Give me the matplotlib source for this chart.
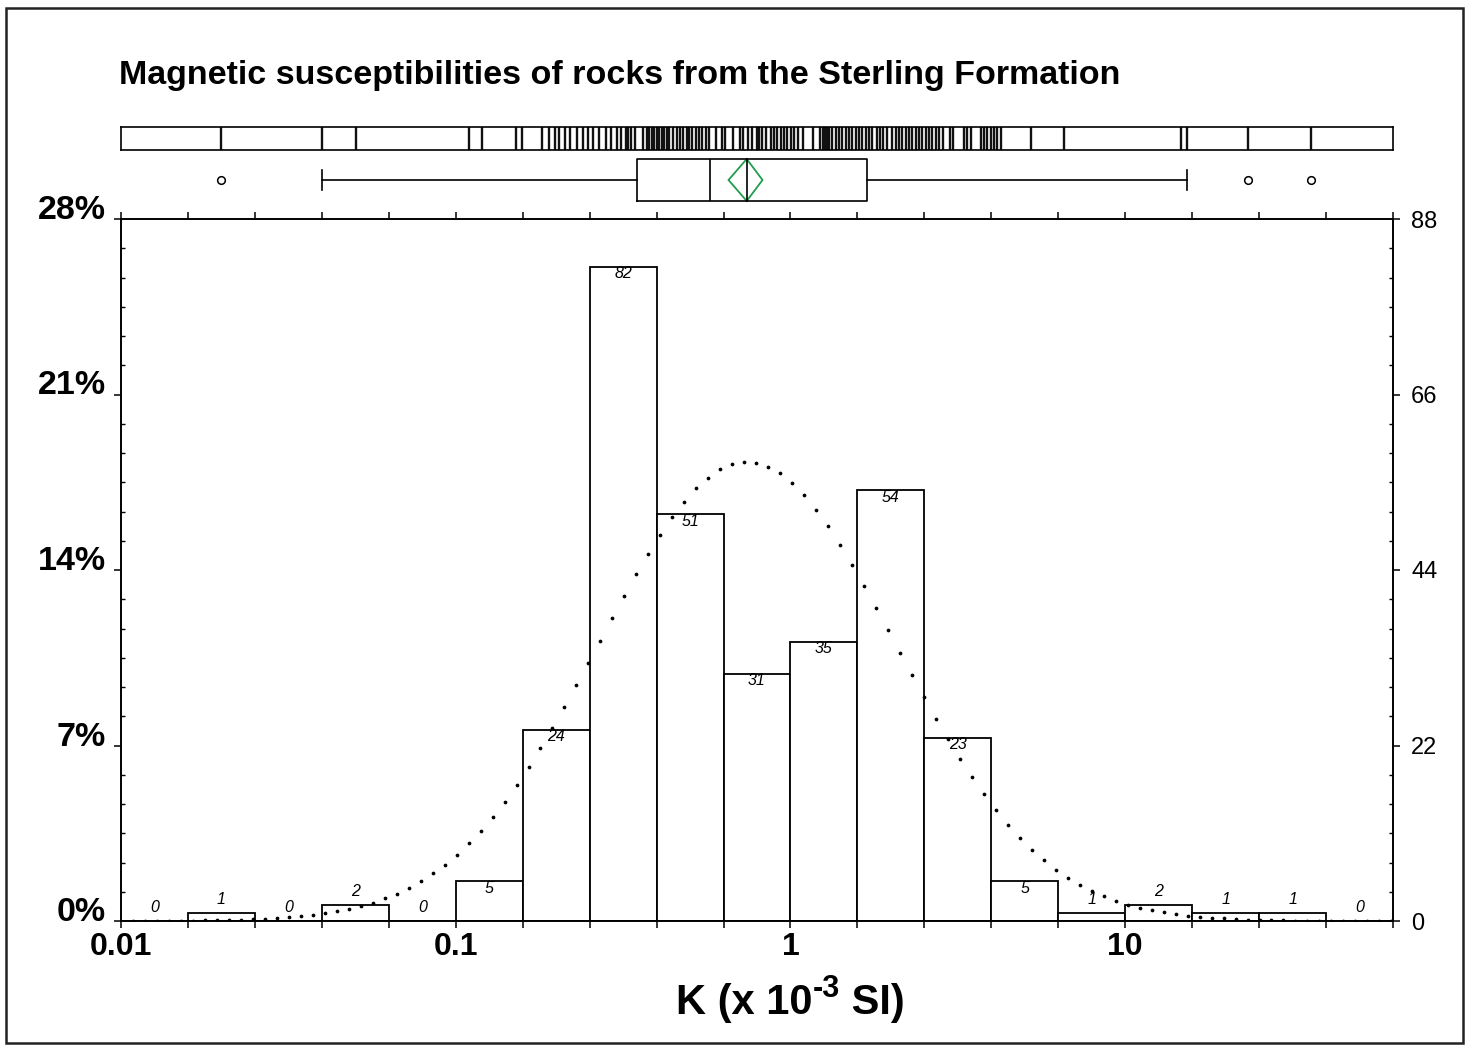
import numpy as np
import matplotlib
matplotlib.use("Agg")
import matplotlib.pyplot as plt
from matplotlib import font_manager as fm
from matplotlib.patches import Rectangle, Polygon
from matplotlib.ticker import FixedLocator, FixedFormatter, NullFormatter, NullLocator

# ---------------- data ----------------
title = "Magnetic susceptibilities of rocks from the Sterling Formation"
xlabel_parts = ["K (x 10", "-3", " SI)"]

bin_edges_log10 = [-2.0, -1.8, -1.6, -1.4, -1.2, -1.0, -0.8, -0.6, -0.4, -0.2,
                   0.0, 0.2, 0.4, 0.6, 0.8, 1.0, 1.2, 1.4, 1.6, 1.8]
counts = [0, 1, 0, 2, 0, 5, 24, 82, 51, 31, 35, 54, 23, 5, 1, 2, 1, 1, 0]

count_ticks = [0, 22, 44, 66, 88]
left_labels = ["0%", "7%", "14%", "21%", "28%"]
right_labels = ["0", "22", "44", "66", "88"]
x_tick_values = [0.01, 0.1, 1, 10]
x_tick_labels = ["0.01", "0.1", "1", "10"]

# individual sample values (log10 K) as seen in the rug strip
rug_log10 = [-1.701, -1.400, -1.299, -0.961, -0.922, -0.821, -0.803, -0.741, -0.722, -0.703,
             -0.693, -0.675, -0.660, -0.639, -0.621, -0.606, -0.591, -0.573, -0.552, -0.537,
             -0.519, -0.507, -0.490, -0.484, -0.475, -0.463, -0.442, -0.430, -0.424, -0.415,
             -0.409, -0.400, -0.394, -0.385, -0.379, -0.370, -0.364, -0.352, -0.340, -0.331,
             -0.322, -0.310, -0.304, -0.293, -0.281, -0.272, -0.263, -0.251, -0.242, -0.221,
             -0.206, -0.197, -0.173, -0.152, -0.143, -0.128, -0.116, -0.101, -0.093, -0.084,
             -0.072, -0.057, -0.048, -0.039, -0.027, -0.018, -0.009, 0.003, 0.012, 0.021,
             0.036, 0.066, 0.087, 0.096, 0.101, 0.107, 0.110, 0.116, 0.125, 0.137,
             0.146, 0.155, 0.167, 0.176, 0.185, 0.197, 0.206, 0.215, 0.227, 0.236,
             0.245, 0.257, 0.266, 0.275, 0.287, 0.304, 0.316, 0.325, 0.334, 0.346,
             0.355, 0.364, 0.376, 0.385, 0.394, 0.406, 0.415, 0.424, 0.436, 0.445,
             0.457, 0.478, 0.487, 0.519, 0.528, 0.540, 0.570, 0.579, 0.588, 0.600,
             0.609, 0.618, 0.630, 0.719, 0.818, 1.166, 1.185, 1.367, 1.555]

# box plot summary (K values)
box_q1, box_med, box_q3 = 0.347, 0.573, 1.69
box_whislo, box_whishi = 0.0398, 15.3
box_fliers = [0.0199, 23.3, 35.9]
mean_value = 0.74
mean_ci = (0.653, 0.825)

# fitted log-normal curve parameters
fit_mu_log10 = -0.13
fit_sd_log10 = 0.441
n_total = 318
bin_width_log10 = 0.2
curve_step_log10 = 0.0358

# ---------------- fonts ----------------
names = {f.name for f in fm.fontManager.ttflist}
main_font = "Liberation Sans" if "Liberation Sans" in names else "DejaVu Sans"
narrow_font = "Liberation Sans Narrow" if "Liberation Sans Narrow" in names else main_font
plt.rcParams["font.family"] = [main_font, "DejaVu Sans"]

# ---------------- figure ----------------
W, H = 1471, 1046
fig = plt.figure(figsize=(W / 100, H / 100), dpi=100)
fig.patch.set_facecolor("white")

L, R = 121, 1393
ax = fig.add_axes([L / W, 1 - 921 / H, (R - L) / W, (921 - 219) / H])
xmin, xmax = 10 ** bin_edges_log10[0], 10 ** bin_edges_log10[-1]
ax.set_xscale("log")
ax.set_xlim(xmin, xmax)
ax.set_ylim(0, 88)

edges = 10 ** np.array(bin_edges_log10)
ax.bar(edges[:-1], counts, width=np.diff(edges), align="edge",
       facecolor="white", edgecolor="black", linewidth=1.3, zorder=2)

# count labels
for i, c in enumerate(counts):
    xc = 10 ** ((bin_edges_log10[i] + bin_edges_log10[i + 1]) / 2)
    off = 10 if c <= 2 else -5
    ax.annotate(str(c), (xc, c), xytext=(0, off), textcoords="offset points",
                ha="center", va="center", fontsize=11.5, style="italic",
                family=narrow_font, zorder=4)

# fitted curve (dotted)
xs = np.arange(bin_edges_log10[0] + 0.036, bin_edges_log10[-1], curve_step_log10)
ys = n_total * bin_width_log10 / (fit_sd_log10 * np.sqrt(2 * np.pi)) * \
    np.exp(-0.5 * ((xs - fit_mu_log10) / fit_sd_log10) ** 2)
ax.plot(10 ** xs, ys, ls="none", marker="o", ms=2.7, mew=0, color="black", zorder=3)

# axes styling
for s in ax.spines.values():
    s.set_linewidth(1.2)
ax.xaxis.set_major_locator(FixedLocator(x_tick_values))
ax.xaxis.set_major_formatter(FixedFormatter(x_tick_labels))
minor_edges = [e for e in edges if not any(np.isclose(e, v) for v in x_tick_values)]
ax.xaxis.set_minor_locator(FixedLocator(minor_edges))
ax.xaxis.set_minor_formatter(NullFormatter())
ax.tick_params(axis="x", which="both", direction="out", length=5, width=1.1,
               top=True, bottom=True, labeltop=False)
ax.tick_params(axis="x", which="major", pad=3)
for t in ax.get_xticklabels():
    t.set_fontsize(23)
    t.set_fontweight("bold")

ax.set_yticks(count_ticks)
ax.set_yticklabels(left_labels, fontsize=24.5, fontweight="bold", va="baseline")
ax.yaxis.set_minor_locator(FixedLocator(list(np.arange(0, 88.01, 22 / 6))))
ax.tick_params(axis="y", which="major", direction="out", length=5, width=1.1, pad=6)
ax.tick_params(axis="y", which="minor", direction="in", length=3, width=1.0)

ax2 = ax.twinx()
ax2.set_ylim(0, 88)
ax2.set_yticks(count_ticks)
ax2.set_yticklabels(right_labels, fontsize=17, family=narrow_font)
ax2.yaxis.set_minor_locator(FixedLocator(list(np.arange(0, 88.01, 22 / 6))))
ax2.tick_params(axis="y", which="major", direction="out", length=5, width=1.1, pad=8)
ax2.tick_params(axis="y", which="minor", direction="in", length=3, width=1.0)
for s in ax2.spines.values():
    s.set_linewidth(1.2)

# rug strip
axr = fig.add_axes([L / W, 1 - 150 / H, (R - L) / W, 23 / H])
axr.set_xscale("log")
axr.set_xlim(xmin, xmax)
axr.set_ylim(0, 1)
axr.vlines(10 ** np.array(rug_log10), 0, 1, color="#111111", lw=1.7)
axr.xaxis.set_major_locator(NullLocator())
axr.xaxis.set_minor_locator(NullLocator())
axr.set_yticks([])
for s in axr.spines.values():
    s.set_linewidth(1.2)

# box plot
axb = fig.add_axes([L / W, 1 - 201 / H, (R - L) / W, 42 / H])
axb.set_xscale("log")
axb.set_xlim(xmin, xmax)
axb.set_ylim(0, 1)
axb.axis("off")
stats = [dict(q1=box_q1, med=box_med, q3=box_q3, whislo=box_whislo,
              whishi=box_whishi, fliers=box_fliers)]
art = axb.bxp(stats, positions=[0.5], widths=[1.0], capwidths=[0.46],
              orientation="horizontal", showfliers=True, manage_ticks=False,
              boxprops=dict(color="black", lw=1.2),
              whiskerprops=dict(color="black", lw=1.2),
              capprops=dict(color="black", lw=1.2),
              medianprops=dict(color="black", lw=1.2),
              flierprops=dict(marker="o", mfc="none", mec="black", ms=5.5, mew=1.1))
for k, lst in art.items():
    for a in lst:
        a.set_clip_on(False)
axb.add_patch(Polygon([(mean_ci[0], 0.5), (mean_value, 1), (mean_ci[1], 0.5), (mean_value, 0)],
                      closed=True, fill=False, edgecolor="#1f9e4c", lw=1.3, clip_on=False))
axb.plot([mean_value, mean_value], [0, 1], color="black", lw=1.2, clip_on=False)

# title
fig.text(119 / W, 1 - 84 / H, title, fontsize=24.5, fontweight="bold", ha="left", va="baseline")

# x label composed of three pieces (superscript uses a plain hyphen)
renderer = fig.canvas.get_renderer()
base_y = 1014
sizes = [30, 22, 30]
raise_px = [0, 17, 0]
pieces = [fig.text(0, 0, p, fontsize=s, fontweight="bold", ha="left", va="baseline")
          for p, s in zip(xlabel_parts, sizes)]
widths = [p.get_window_extent(renderer).width for p in pieces]
x0 = 790 - sum(widths) / 2
for p, w, r in zip(pieces, widths, raise_px):
    p.set_position((x0 / W, 1 - (base_y - r) / H))
    x0 += w

# outer frame
fig.patches.append(Rectangle((6 / W, 1 - 1043 / H), (1463 - 6) / W, (1043 - 8) / H,
                             transform=fig.transFigure, fill=False, lw=1.8, ec="#222222"))

fig.savefig("out.png", dpi=100)
